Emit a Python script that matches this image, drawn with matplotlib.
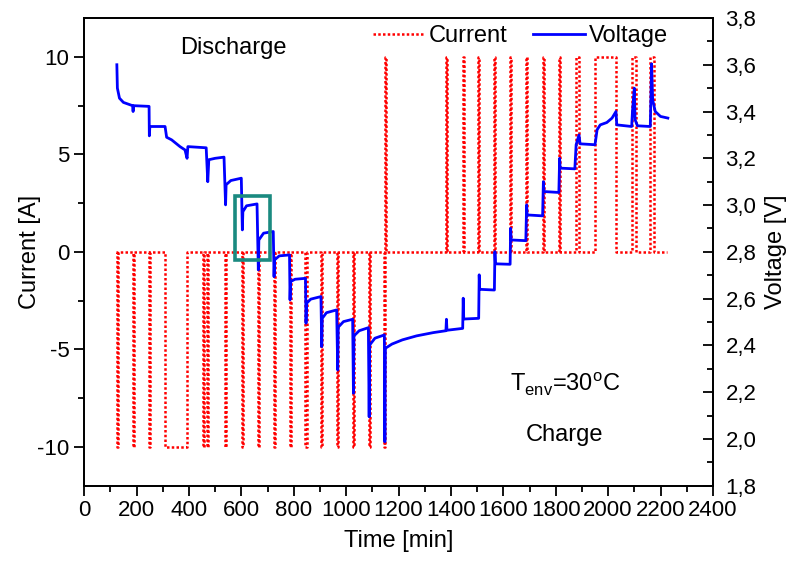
import matplotlib
matplotlib.use("Agg")
import matplotlib.pyplot as plt
from matplotlib.ticker import MultipleLocator, FuncFormatter
from matplotlib.patches import Rectangle

plt.rcParams['font.family'] = ['Liberation Sans', 'DejaVu Sans']
plt.rcParams['mathtext.fontset'] = 'custom'
plt.rcParams['mathtext.rm'] = 'Liberation Sans'
plt.rcParams['axes.unicode_minus'] = False

# current pulses: start [min], end [min], level [A]
pulse_start = [125, 186, 248, 309, 455, 470, 538, 602, 663, 723, 784, 845, 905, 966, 1026, 1086, 1144, 1148,
               1383, 1445, 1505, 1566, 1626, 1687, 1750, 1812, 1876, 1950, 2090, 2161]
pulse_end = [129, 190, 252, 393, 459, 474, 542, 606, 667, 727, 788, 849, 909, 970, 1030, 1090, 1148, 1152,
             1387, 1449, 1509, 1570, 1630, 1691, 1754, 1816, 1890, 2032, 2105, 2175]
pulse_level = [-10] * 17 + [10] * 13
cur_t0, cur_t1 = 122, 2225

# voltage trace [min], [V]
volt_t = [125, 127, 135, 150, 175, 185, 187, 189, 248, 249, 251, 309, 315, 334, 366, 385, 393, 396,
          466, 472, 476, 500, 534, 540, 542, 560, 600, 604, 606, 620, 660, 665, 667, 685, 722,
          725, 727, 745, 784, 786, 788, 805, 845, 847, 849, 865, 904, 907, 909, 925, 964,
          968, 970, 990, 1025, 1028, 1030, 1050, 1085, 1088, 1090, 1110, 1146, 1148, 1150,
          1175, 1215, 1269, 1333, 1381, 1383, 1385, 1445, 1447, 1449, 1506, 1508, 1510, 1566,
          1568, 1570, 1626, 1628, 1630, 1686, 1689, 1691, 1750, 1753, 1755, 1812, 1815, 1817,
          1873, 1878, 1889, 1893, 1950, 1958, 1970, 1995, 2015, 2030, 2033, 2090, 2093, 2100,
          2103, 2112, 2161, 2166, 2170, 2180, 2200, 2228]
volt_v = [3.60, 3.50, 3.457, 3.439, 3.429, 3.425, 3.40, 3.425, 3.422, 3.296, 3.336, 3.336, 3.29, 3.279,
          3.25, 3.236, 3.20, 3.25, 3.245, 3.10, 3.194, 3.20, 3.205, 3.001, 3.087, 3.105, 3.115,
          2.894, 2.972, 2.997, 3.005, 2.723, 2.851, 2.88, 2.887, 2.694, 2.766, 2.783, 2.787,
          2.595, 2.673, 2.683, 2.687, 2.495, 2.580, 2.598, 2.609, 2.395, 2.516, 2.540, 2.552,
          2.295, 2.478, 2.502, 2.512, 2.196, 2.441, 2.463, 2.476, 2.095, 2.402, 2.431, 2.445,
          1.988, 2.388, 2.406, 2.424, 2.441, 2.455, 2.463, 2.512, 2.465, 2.473, 2.602, 2.513,
          2.516, 2.702, 2.640, 2.637, 2.801, 2.749, 2.747, 2.901, 2.851, 2.848, 3.001, 2.958,
          2.954, 3.10, 3.058, 3.054, 3.20, 3.158, 3.155, 3.258, 3.30, 3.262, 3.258, 3.322,
          3.343, 3.353, 3.372, 3.40, 3.343, 3.336, 3.40, 3.50, 3.365, 3.339, 3.336, 3.604,
          3.45, 3.40, 3.379, 3.372]

# build step series for the current
cur_t = [cur_t0]
cur_i = [0]
for s, e, lv in zip(pulse_start, pulse_end, pulse_level):
    cur_t += [s, s, e, e]
    cur_i += [cur_i[-1], lv, lv, 0]
cur_t.append(cur_t1)
cur_i.append(0)

fig = plt.figure(figsize=(7.86, 5.61), dpi=100)
ax = fig.add_axes([0.107, 0.134, 0.8, 0.834])
ax2 = ax.twinx()

l1, = ax.plot(cur_t, cur_i, color='red', lw=1.8, linestyle=(0, (1, 0.9)), label='Current')
l2, = ax2.plot(volt_t, volt_v, color='#0000ff', lw=2.0, label='Voltage')

ax.set_xlim(0, 2400)
ax.set_ylim(-12, 12)
ax2.set_ylim(1.8, 3.8)

ax.xaxis.set_major_locator(MultipleLocator(200))
ax.xaxis.set_minor_locator(MultipleLocator(100))
ax.yaxis.set_major_locator(MultipleLocator(5))
ax.yaxis.set_minor_locator(MultipleLocator(2.5))
ax2.yaxis.set_major_locator(MultipleLocator(0.2))
ax2.yaxis.set_minor_locator(MultipleLocator(0.1))
ax2.yaxis.set_major_formatter(FuncFormatter(lambda v, p: f"{v:.1f}".replace('.', ',')))

ax.tick_params(axis='both', which='major', direction='out', length=7, width=1.3, labelsize=16)
ax.tick_params(axis='both', which='minor', direction='out', length=4, width=1.3)
ax2.tick_params(axis='y', which='major', direction='in', length=7, width=1.3, labelsize=16, pad=9)
ax2.tick_params(axis='y', which='minor', direction='in', length=4, width=1.3)
for sp in list(ax.spines.values()) + list(ax2.spines.values()):
    sp.set_linewidth(1.3)

ax.set_xlabel('Time [min]', fontsize=17, labelpad=6)
ax.set_ylabel('Current [A]', fontsize=17)
ax.yaxis.set_label_coords(-0.068, 0.5)
ax2.set_ylabel('Voltage [V]', fontsize=17, labelpad=6)

ax.text(569, 10.45, 'Discharge', fontsize=17, ha='center', va='center')
ax.text(1835, -6.8, r'T$_{\rm env}$=30$^{\rm o}$C', fontsize=17, ha='center', va='center')
ax.text(1835, -9.4, 'Charge', fontsize=17, ha='center', va='center')

ax2.add_patch(Rectangle((576, 2.766), 134, 0.275, fill=False, edgecolor='#1a8a80', lw=2.6, zorder=5))

ax2.legend(handles=[l1, l2], loc='upper right', bbox_to_anchor=(0.962, 1.03), ncol=2, frameon=False,
           fontsize=17, handlelength=2.2, columnspacing=1.1, handletextpad=0.15)

fig.savefig('out.png', dpi=100)
